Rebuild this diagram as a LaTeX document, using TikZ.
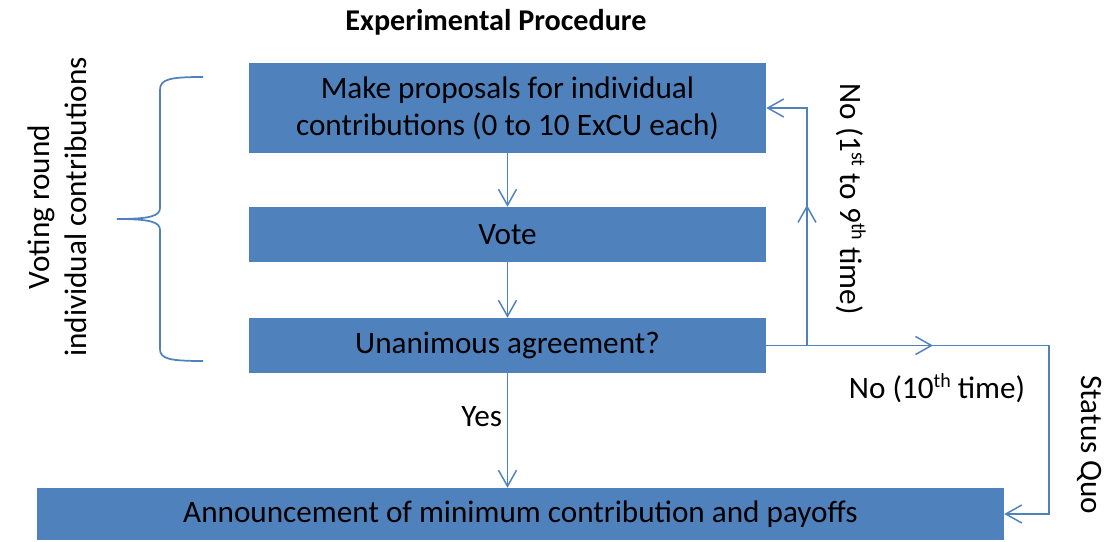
\documentclass[tikz,border=0pt]{standalone}
\usepackage{fontspec}
\setmainfont{Carlito}
\usetikzlibrary{arrows.meta}
\definecolor{obox}{HTML}{4F81BD}
\newcommand{\supx}[1]{\raisebox{0.75ex}{\fontsize{15}{15}\selectfont #1}}
\tikzset{
  box/.style={fill=obox, draw=none, inner sep=0pt, align=center, font=\fontsize{23.4}{27.5}\selectfont},
  conn/.style={draw=obox, line width=1.3pt},
  tip/.style={-{Straight Barb[length=12pt,width=13.5pt,line width=1.1pt]}},
  lbl/.style={font=\fontsize{23.4}{27.5}\selectfont, inner sep=0pt}
}
\begin{document}
\begin{tikzpicture}[x=0.75pt,y=-0.75pt]
\useasboundingbox (0,0) rectangle (1108,542);
\node[font=\bfseries\fontsize{22.6}{26}\selectfont] (title) at (496,22) {Experimental Procedure};
\node[box, minimum width=517*0.75pt, minimum height=90*0.75pt] (m) at (507.5,108) {Make proposals for individual\\contributions (0 to 10 ExCU each)};
\node[box, minimum width=517*0.75pt, minimum height=55*0.75pt] (v) at (507.5,234.5) {Vote};
\node[box, minimum width=517*0.75pt, minimum height=55*0.75pt] (u) at (507.5,345.5) {Unanimous agreement?};
\node[box, minimum width=967*0.75pt, minimum height=52*0.75pt] (a) at (520.5,514) {Announcement of minimum contribution and payoffs};
\draw[conn,tip] (m) -- (v);
\draw[conn,tip] (v) -- (u);
\draw[conn,tip] (u.south) -- node[lbl, pos=0.38, left=3.5pt] {Yes} (u.south |- a.north);
% loop back
\coordinate (c1) at (807,345.5);
\coordinate (c1m) at (807,205);
\draw[conn,tip] (u.east) -- (c1) |- (m.east);
\draw[conn,tip] (c1) -- (c1m);
\node[lbl, rotate=-90] (l1) at (851,199) {No (1\supx{st} to 9\supx{th} time)};
% status quo
\coordinate (c2) at (1049,345.5);
\coordinate (c2m) at (933,345.5);
\draw[conn,tip] (c1) -- (c2) |- (a.east);
\draw[conn,tip] (c1) -- (c2m);
\node[lbl] (l2) at (937,388) {No (10\supx{th} time)};
\node[lbl, rotate=-90] (l3) at (1090,445) {Status Quo};
% brace
\draw[conn] (203,77) .. controls (170,77) and (160,79) .. (160,90) -- (160,208) .. controls (160,216) and (150,219) .. (117,219) .. controls (150,219) and (160,222) .. (160,230) -- (160,349) .. controls (160,359) and (170,361) .. (203,361);
\node[lbl, rotate=90, align=center] (lv) at (57,207) {Voting round\\individual contributions};
\end{tikzpicture}
\end{document}
